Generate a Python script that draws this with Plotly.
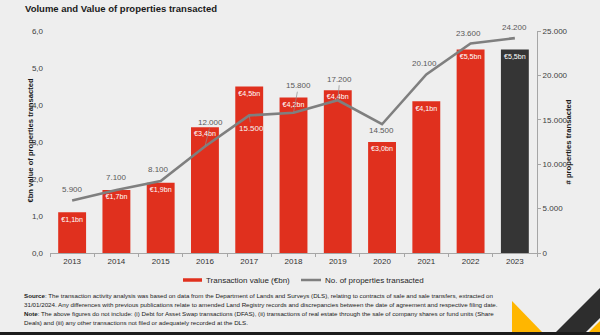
import plotly.graph_objects as go

# Data
years = ["2013", "2014", "2015", "2016", "2017", "2018", "2019", "2020", "2021", "2022", "2023"]
value_bn = [1.1, 1.7, 1.9, 3.4, 4.5, 4.2, 4.4, 3.0, 4.1, 5.5, 5.5]
num_properties = [5900, 7100, 8100, 12000, 15500, 15800, 17200, 14500, 20100, 23600, 24200]
left_ticks = [0, 1, 2, 3, 4, 5, 6]
right_ticks = [0, 5000, 10000, 15000, 20000, 25000]

W, H = 600, 335
L, R, T, B = 50, 63, 31, 82
PW, PH = W - L - R, H - T - B

RED = "#E0301E"
DARK = "#353535"
GRAY = "#7F7F7F"
BG = "#EEEEEE"
YELLOW = "#FFB600"
FONT = "Liberation Sans, Arial, sans-serif"


def px(x):
    return (x - L) / PW


def py(y):
    return (H - B - y) / PH


bar_colors = [RED] * (len(years) - 1) + [DARK]
bar_text = ["€" + f"{v:.1f}".replace(".", ",") + "bn" for v in value_bn]

fig = go.Figure()
fig.add_trace(go.Bar(
    x=years, y=value_bn, marker=dict(color=bar_colors, line=dict(width=0)),
    width=0.63, text=bar_text, textposition="inside", insidetextanchor="end",
    textangle=0, textfont=dict(color="white", size=8, family=FONT),
    showlegend=False, hoverinfo="skip", cliponaxis=False,
))
fig.add_trace(go.Scatter(
    x=years, y=num_properties, yaxis="y2", mode="lines",
    line=dict(color=GRAY, width=2.6), showlegend=False, hoverinfo="skip",
))

# Labels on the line: (x offset, y offset, leader line, text colour)
label_style = [
    (0, -11, False, "#595959"), (0, -12, False, "#595959"), (-2, -12, False, "#595959"),
    (6, -24, True, "#595959"), (2, 13, True, "#F4F4F4"), (5, -27, True, "#595959"),
    (2, -21, True, "#595959"), (-1, 6, False, "#595959"), (-2, -11, False, "#595959"),
    (-2, -10, False, "#595959"), (0, -11, False, "#595959"),
]
annotations = []
for i, (n, (dx, dy, leader, col)) in enumerate(zip(num_properties, label_style)):
    txt = f"{n:,}".replace(",", ".")
    a = dict(x=i, y=n, xref="x", yref="y2", text=txt,
             font=dict(size=8, color=col, family=FONT))
    if leader:
        a.update(showarrow=True, ax=dx, ay=dy, arrowhead=0, arrowwidth=0.7,
                 arrowcolor="#8c8c8c", standoff=1)
    else:
        # text centred dy pixels below (positive) or above (negative) the point
        a.update(showarrow=False, xanchor="center", yanchor="middle",
                 xshift=dx, yshift=-dy)
    annotations.append(a)

# Title and axis titles
annotations.append(dict(x=px(23), y=py(9), xref="paper", yref="paper", xanchor="left",
                        yanchor="middle", showarrow=False,
                        text="<b>Volume and Value of properties transacted</b>",
                        font=dict(size=9.5, color="#1a1a1a", family=FONT)))
annotations.append(dict(x=px(23), y=py(141), xref="paper", yref="paper", textangle=-90,
                        showarrow=False, text="<b>€bn value of properties transacted</b>",
                        font=dict(size=7.6, color="#1a1a1a", family=FONT)))
annotations.append(dict(x=px(574), y=py(142), xref="paper", yref="paper", textangle=-90,
                        showarrow=False, text="<b># properties transacted</b>",
                        font=dict(size=7.7, color="#1a1a1a", family=FONT)))

# Legend
annotations.append(dict(x=px(204), y=py(280), xref="paper", yref="paper", xanchor="left",
                        yanchor="middle", showarrow=False, text="Transaction value (€bn)",
                        font=dict(size=8, color="#262626", family=FONT)))
annotations.append(dict(x=px(323), y=py(280), xref="paper", yref="paper", xanchor="left",
                        yanchor="middle", showarrow=False, text="No. of properties transacted",
                        font=dict(size=8, color="#262626", family=FONT)))

# Footnote, one annotation per line
footnote_lines = [
    "<b>Source</b>: The transaction activity analysis was based on data from the Department of Lands and Surveys (DLS), relating to contracts of sale and sale transfers, extracted on",
    "31/01/2024. Any differences with previous publications relate to amended Land Registry records and discrepancies between the date of agreement and respective filing date.",
    "<b>Note</b>: The above figures do not include: (i) Debt for Asset Swap transactions (DFAS), (ii) transactions of real estate through the sale of company shares or fund units (Share",
    "Deals) and (iii) any other transactions not filed or adequately recorded at the DLS.",
]
for k, line in enumerate(footnote_lines):
    annotations.append(dict(x=px(22), y=py(295 + 9 * k), xref="paper", yref="paper",
                            xanchor="left", yanchor="middle", align="left", showarrow=False,
                            text=line, font=dict(size=6.2, color="#1a1a1a", family=FONT)))


def path(points):
    return "M " + " L ".join(f"{px(x)},{py(y)}" for x, y in points) + " Z"


shapes = [
    dict(type="line", xref="paper", yref="paper", x0=px(183), x1=px(202), y0=py(280), y1=py(280),
         line=dict(color=RED, width=3.5)),
    dict(type="line", xref="paper", yref="paper", x0=px(301), x1=px(321), y0=py(280), y1=py(280),
         line=dict(color=GRAY, width=2.5)),
    dict(type="path", xref="paper", yref="paper", path=path([(512, 301), (512, 333), (543, 333)]),
         fillcolor=YELLOW, line=dict(width=0)),
    dict(type="path", xref="paper", yref="paper",
         path=path([(555, 333), (600, 288), (600, 318), (585, 333)]),
         fillcolor="#2D2D2D", line=dict(width=0)),
    dict(type="path", xref="paper", yref="paper", path=path([(588, 333), (600, 321), (600, 333)]),
         fillcolor=YELLOW, line=dict(width=0)),
    dict(type="rect", xref="paper", yref="paper", x0=px(0), x1=px(600), y0=py(332), y1=py(336),
         fillcolor="#1c1c1c", line=dict(width=0)),
]

fig.update_layout(
    width=W, height=H, margin=dict(l=L, r=R, t=T, b=B),
    paper_bgcolor=BG, plot_bgcolor=BG,
    separators=",.", bargap=0.37, showlegend=False,
    font=dict(family=FONT, size=8, color="#333333"),
    xaxis=dict(type="category", range=[-0.5, 10.5], showline=True, linecolor="#A6A6A6",
               linewidth=1, ticks="outside", tickson="boundaries", ticklen=3,
               tickcolor="#A6A6A6", showgrid=False, zeroline=False,
               tickfont=dict(size=8, color="#333333")),
    yaxis=dict(range=[0, 6], tickvals=left_ticks, tickformat=".1f", showgrid=False,
               zeroline=False, showline=False, ticks="", ticklabelstandoff=6,
               tickfont=dict(size=8, color="#404040")),
    yaxis2=dict(range=[0, 25000], tickvals=right_ticks, tickformat=",d", overlaying="y",
                side="right", showgrid=False, zeroline=False, showline=True,
                linecolor="#A6A6A6", linewidth=1, ticks="outside", ticklen=3,
                tickcolor="#A6A6A6", tickfont=dict(size=8, color="#404040")),
    annotations=annotations, shapes=shapes,
)

fig.write_html("out.html")
